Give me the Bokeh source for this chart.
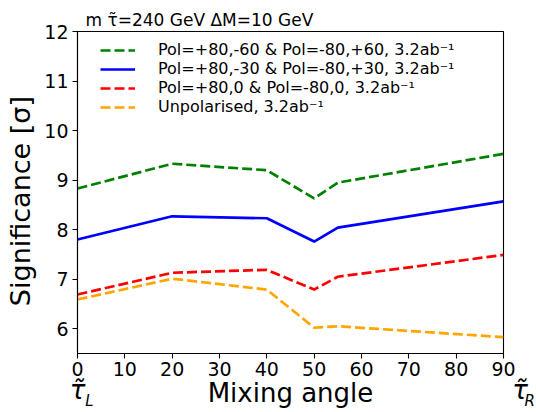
from bokeh.plotting import figure
from bokeh.models import Range1d, FixedTicker, Legend, LegendItem, LinearAxis
from bokeh.embed import file_html
from bokeh.resources import INLINE

# ---- data ----
angles = [0, 20, 40, 50, 55, 90]
sig_pol60 = [8.83, 9.33, 9.20, 8.63, 8.95, 9.53]
sig_pol30 = [7.80, 8.27, 8.23, 7.76, 8.04, 8.57]
sig_pol0 = [6.69, 7.13, 7.19, 6.79, 7.05, 7.49]
sig_unpol = [6.59, 7.01, 6.79, 6.02, 6.05, 5.83]

series_labels = [
    "Pol=+80,-60 & Pol=-80,+60, 3.2ab\u207b\u00b9",
    "Pol=+80,-30 & Pol=-80,+30, 3.2ab\u207b\u00b9",
    "Pol=+80,0 & Pol=-80,0, 3.2ab\u207b\u00b9",
    "Unpolarised, 3.2ab\u207b\u00b9",
]
x_ticks = [0, 10, 20, 30, 40, 50, 60, 70, 80, 90]
y_ticks = [6, 7, 8, 9, 10, 11, 12]
end_ticks = [0, 90]
end_names = ["\u03c4\u0303", "\u03c4\u0303"]
end_subs = ["L", "R"]
title_text = "m \u03c4\u0303=240 GeV \u0394M=10 GeV"
x_label = "Mixing angle"
y_label = "Significance [\u03c3]"

FONT = "DejaVu Sans"
NB = "\u00a0"

p = figure(width=536, height=412, output_backend="svg", toolbar_location=None,
           x_range=Range1d(0, 90), y_range=Range1d(5.5, 12),
           min_border_left=77, min_border_right=33, min_border_top=31,
           min_border_bottom=57)
p.grid.visible = False
p.outline_line_color = "black"
p.outline_line_width = 1.1
p.outline_line_alpha = 1.0

p.title.text = title_text
p.title.align = "left"
p.title.offset = 8
p.title.standoff = 3
p.title.text_font = FONT
p.title.text_font_size = "17px"
p.title.text_font_style = "normal"
p.title.text_color = "black"

for ax in (p.xaxis[0], p.yaxis[0]):
    ax.axis_line_color = "black"
    ax.axis_line_width = 1.1
    ax.major_tick_line_color = "black"
    ax.major_tick_line_width = 1.1
    ax.major_tick_out = 5
    ax.major_tick_in = 0
    ax.minor_tick_line_color = None
    ax.major_label_text_font = FONT
    ax.major_label_text_font_size = "19px"
    ax.major_label_text_color = "black"
p.xaxis.ticker = FixedTicker(ticks=x_ticks)
p.yaxis.ticker = FixedTicker(ticks=y_ticks)
p.xaxis.major_label_standoff = 3
p.yaxis.major_label_standoff = 4

p.yaxis.axis_label = y_label + NB + NB
p.yaxis.axis_label_text_font = FONT
p.yaxis.axis_label_text_font_size = "27px"
p.yaxis.axis_label_text_font_style = "normal"
p.yaxis.axis_label_text_color = "black"
p.yaxis.axis_label_standoff = 5

# second bottom axis: stau symbols at the ends + axis title
ax_b = LinearAxis(ticker=FixedTicker(ticks=end_ticks),
                  major_label_overrides={end_ticks[0]: end_names[0],
                                         end_ticks[1]: NB * 4 + end_names[1]},
                  axis_line_color=None, major_tick_line_color=None,
                  minor_tick_line_color=None, major_tick_out=0, major_tick_in=0,
                  major_label_standoff=-4, major_label_text_font=FONT,
                  major_label_text_font_size="26px",
                  major_label_text_font_style="italic",
                  major_label_text_color="black",
                  axis_label=x_label, axis_label_standoff=-30,
                  axis_label_text_font=FONT, axis_label_text_font_size="26px",
                  axis_label_text_font_style="normal",
                  axis_label_text_color="black")
p.add_layout(ax_b, "below")

# third bottom axis: L / R subscripts
ax_c = LinearAxis(ticker=FixedTicker(ticks=end_ticks),
                  major_label_overrides={end_ticks[0]: NB * 5 + end_subs[0],
                                         end_ticks[1]: NB * 11 + end_subs[1]},
                  axis_line_color=None, major_tick_line_color=None,
                  minor_tick_line_color=None, major_tick_out=0, major_tick_in=0,
                  major_label_standoff=-19, major_label_text_font=FONT,
                  major_label_text_font_size="15px",
                  major_label_text_font_style="italic",
                  major_label_text_color="black")
p.add_layout(ax_c, "below")

colors = ["green", "blue", "red", "orange"]
dashes = ["10 4", "solid", "10 4", "10 4"]
all_series = [sig_pol60, sig_pol30, sig_pol0, sig_unpol]
items = []
for ys, c, d, lab in zip(all_series, colors, dashes, series_labels):
    r = p.line(angles, ys, line_color=c, line_width=2.7, line_dash=d)
    items.append(LegendItem(label=lab, renderers=[r]))

legend = Legend(items=items, location=(18, 232), padding=5, margin=0,
                spacing=0, glyph_width=35, glyph_height=18, label_height=18,
                label_standoff=23, label_text_font=FONT,
                label_text_font_size="16px", label_text_color="black",
                border_line_alpha=0, background_fill_alpha=0)
p.add_layout(legend)

open("out.html", "w").write(file_html(p, INLINE))
